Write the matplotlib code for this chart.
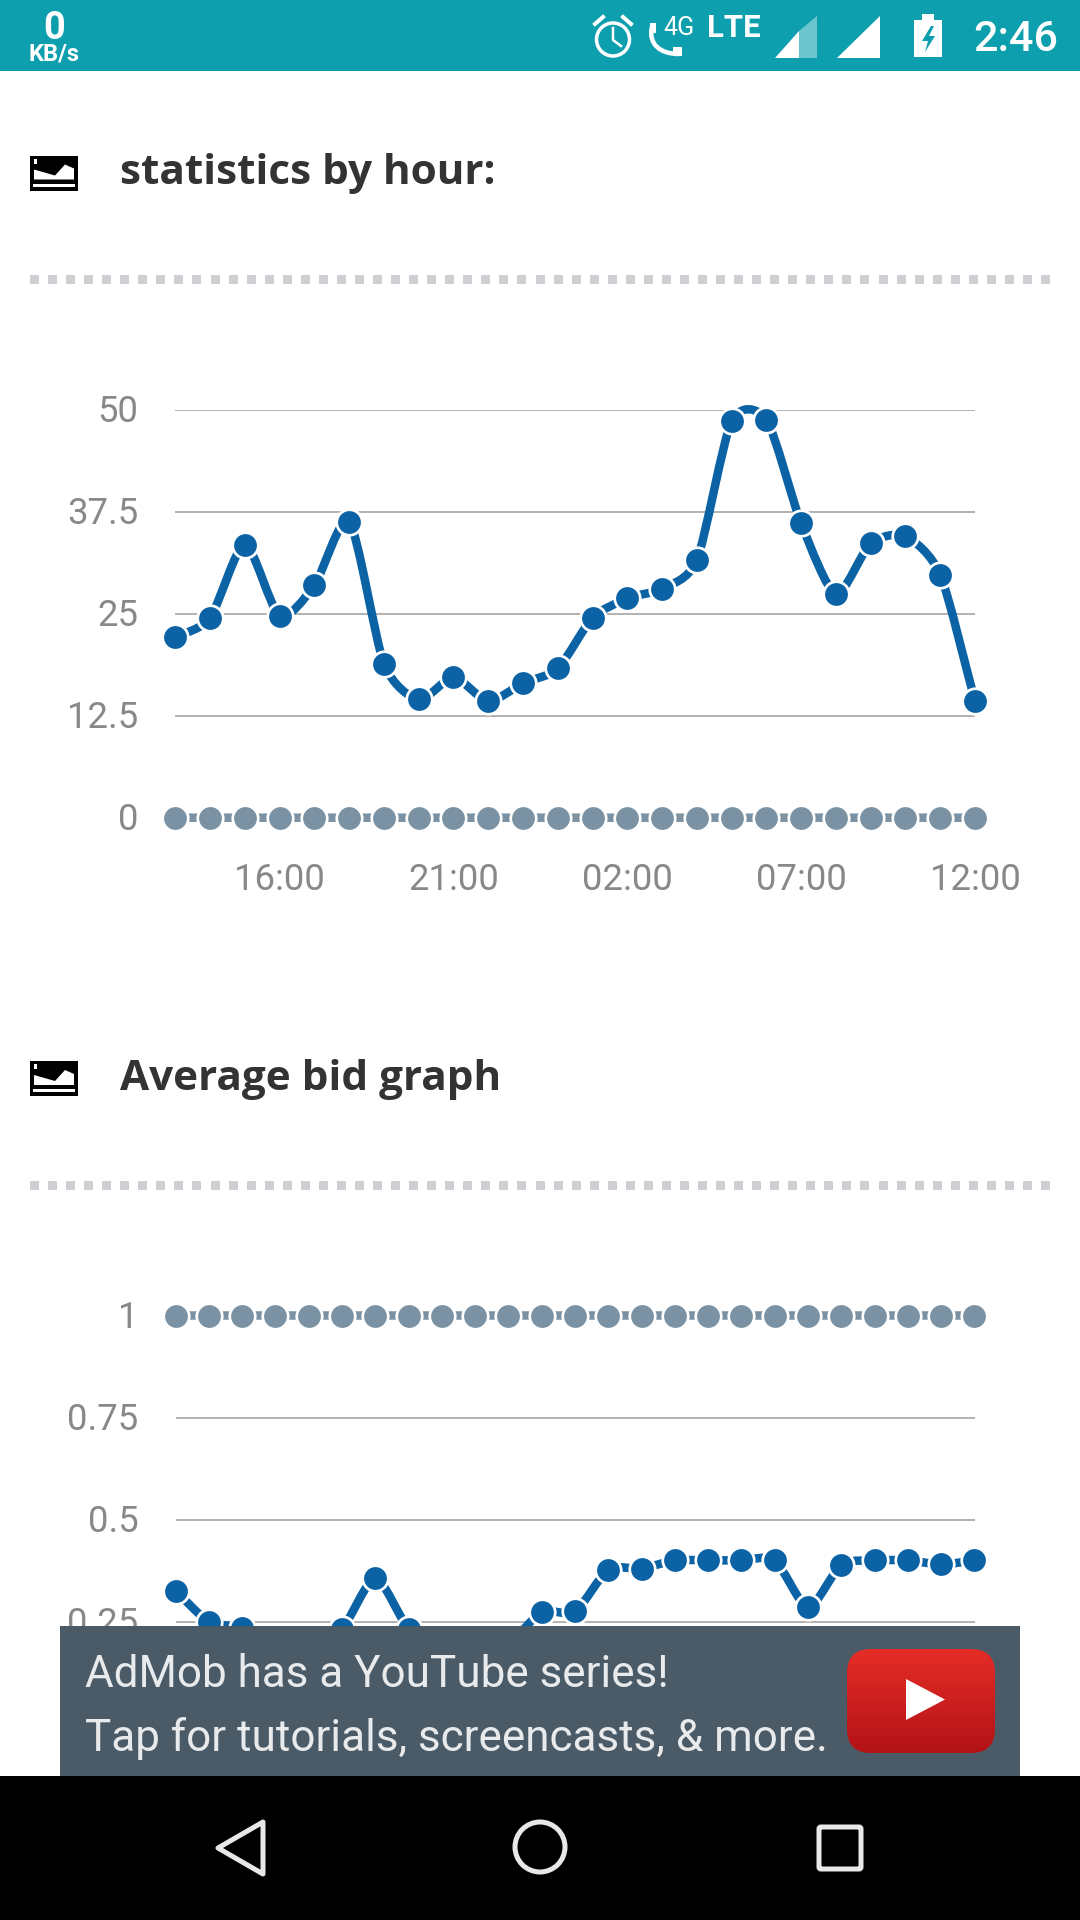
import numpy as np
import matplotlib
matplotlib.use("Agg")
import matplotlib.pyplot as plt
from matplotlib.path import Path
from matplotlib.patches import PathPatch, Rectangle, Circle, Polygon, FancyBboxPatch
from matplotlib.transforms import ScaledTranslation

hours = ["13:00","14:00","15:00","16:00","17:00","18:00","19:00","20:00","21:00","22:00","23:00","00:00",
         "01:00","02:00","03:00","04:00","05:00","06:00","07:00","08:00","09:00","10:00","11:00","12:00"]
shown_hours = ["16:00","21:00","02:00","07:00","12:00"]
stats_blue = [22.1,24.5,33.5,24.75,28.5,36.3,18.9,14.5,17.2,14.3,16.5,18.3,
              24.5,26.9,28.1,31.6,48.6,48.8,36.1,27.45,33.65,34.5,29.8,14.3]
stats_grey = [0]*24
stats_ticks = [0,12.5,25,37.5,50]
stats_ticklabels = ["0","12.5","25","37.5","50"]

bid_blue = [.325,.25,.235,.2,.19,.232,.356,.232,.18,.17,.195,.273,.275,.377,.38,.40,.40,.40,.40,.285,.389,.40,.40,.39,.40]
bid_grey = [1]*25
bid_ticks = [.25,.5,.75,1]
bid_ticklabels = ["0.25","0.5","0.75","1"]

BLUE, GREY = "#0B62A4", "#7A92A3"
W, H = 1080, 1920
PX = 0.72
fig = plt.figure(figsize=(10.8,19.2), dpi=100, facecolor="white")

def chart_axes(x0, x1, ytop, ybot):
    ax = fig.add_axes([x0/W, 1-ybot/H, (x1-x0)/W, (ybot-ytop)/H], facecolor="none", zorder=1)
    for s in ax.spines.values():
        s.set_visible(False)
    return ax

def smooth(ax, xs, ys, color):
    xs, ys = np.asarray(xs, float), np.asarray(ys, float)
    n = len(xs)
    g = np.zeros(n)
    g[1:-1] = (ys[2:]-ys[:-2])/(xs[2:]-xs[:-2])
    g[0] = (ys[1]-ys[0])/(xs[1]-xs[0])
    g[-1] = (ys[-1]-ys[-2])/(xs[-1]-xs[-2])
    verts, codes = [(xs[0], ys[0])], [Path.MOVETO]
    for i in range(1, n):
        d = (xs[i]-xs[i-1])/4
        verts += [(xs[i-1]+d, ys[i-1]+d*g[i-1]), (xs[i]-d, ys[i]-d*g[i]), (xs[i], ys[i])]
        codes += [Path.CURVE4]*3
    ax.add_patch(PathPatch(Path(verts, codes), fill=False, ec=color, lw=8.5*PX, clip_on=False, zorder=3, capstyle="butt"))
    ax.plot(xs, ys, ls="none", marker="o", ms=25.5*PX, mfc=color, mec="white", mew=2.7*PX, clip_on=False, zorder=4)

def draw_chart(ax, xs, blue, grey, ticks, ticklabels, xlim, ylim):
    ax.set_xlim(*xlim); ax.set_ylim(*ylim)
    ax.set_yticks(ticks, ticklabels, family="Roboto", fontsize=36.5*PX, color="#888888")
    ax.yaxis.grid(True, color="#b4b4b4", lw=2*PX)
    ax.set_axisbelow(True)
    ax.tick_params(axis="y", length=0, pad=37*PX)
    shift = ScaledTranslation(0, 2/100, fig.dpi_scale_trans)
    for lab in ax.get_yticklabels():
        lab.set_transform(lab.get_transform() + shift)
    smooth(ax, xs, grey, GREY)
    smooth(ax, xs, blue, BLUE)

ax1 = chart_axes(175.3, 975, 410, 817.7)
x1 = np.arange(len(hours))
draw_chart(ax1, x1, stats_blue, stats_grey, stats_ticks, stats_ticklabels, (0,23), (0,50))
ax1.set_xticks([hours.index(h) for h in shown_hours], shown_hours, family="Roboto", fontsize=36.5*PX, color="#888888")
ax1.tick_params(axis="x", length=0, pad=44*PX)

ax2 = chart_axes(175.6, 974.5, 1315.5, 1723.6)
x2 = np.arange(len(bid_blue))
draw_chart(ax2, x2, bid_blue, bid_grey, bid_ticks, bid_ticklabels, (0,24), (0,1))
ax2.set_xticks([])

# page furniture, in pixel coordinates
ov = fig.add_axes([0,0,1,1], facecolor="none", zorder=5)
ov.set_xlim(0,W); ov.set_ylim(H,0); ov.axis("off")

TEAL = "#0E9FAE"
ov.add_patch(Rectangle((0,0),W,71,fc=TEAL,ec="none"))
ov.text(53.7,39,"0",family="Roboto",weight="bold",fontsize=38*PX,color="white",ha="center",va="baseline")
ov.text(53.7,61,"KB/s",family="Roboto",weight="bold",fontsize=23.5*PX,color="white",ha="center",va="baseline")
# alarm
ov.add_patch(Circle((613,39.5),16.5,fc="none",ec="white",lw=3.5*PX))
ov.plot([613,613,621],[28,40,46],color="white",lw=2.5*PX)
ov.plot([595,603],[24,17],color="white",lw=4*PX)
ov.plot([631,623],[24,17],color="white",lw=4*PX)
# phone
ov.add_patch(PathPatch(Path([(652,27),(648,44),(660,54),(679,54)],[Path.MOVETO,Path.CURVE4,Path.CURVE4,Path.CURVE4]),fill=False,ec="white",lw=4.5*PX))
ov.add_patch(Rectangle((650,23),6,10,fc="white",ec="none"))
ov.add_patch(Rectangle((673,47),9,9,fc="white",ec="none"))
ov.text(663,35,"4G",family="Roboto",fontsize=25*PX,color="white",va="baseline")
ov.text(707,37,"LTE",family="Roboto",weight="bold",fontsize=31*PX,color="white",va="baseline")
# signal
ov.add_patch(Polygon([(775,58),(799,31),(799,58)],fc="white",ec="none"))
ov.add_patch(Polygon([(799,58),(799,31),(817,16),(817,58)],fc="#6CC4CE",ec="none"))
ov.add_patch(Polygon([(837,58),(880,16),(880,58)],fc="white",ec="none"))
# battery
ov.add_patch(Rectangle((914,20),28,37,fc="white",ec="none"))
ov.add_patch(Rectangle((922,14),12,7,fc="white",ec="none"))
ov.add_patch(Polygon([(931,26),(922,41),(928,41),(925,52),(935,36),(929,36),(934,26)],fc=TEAL,ec="none"))
ov.text(973,51,"2:46",family="Roboto",weight="medium",fontsize=43*PX,color="white",va="baseline")

def heading(y_top, y_base, y_dots, txt):
    ov.add_patch(Rectangle((30,y_top),48,35,fc="black",ec="none"))
    ov.add_patch(Polygon([(34,y_top+14),(55,y_top+20),(65,y_top+9),(74,y_top+13),(74,y_top+24),(34,y_top+24)],fc="white",ec="none"))
    ov.add_patch(Rectangle((33,y_top+28),42,3,fc="white",ec="none"))
    ov.add_patch(Rectangle((34,y_top+3),3,5,fc="white",ec="none"))
    ov.text(120.5,y_base,txt,family="Open Sans",weight="bold",fontsize=42.2*PX,color="#333333",va="baseline")
    for x in np.linspace(30,1041,57):
        ov.add_patch(Rectangle((x,y_dots-4.5),9,9,fc="#CFCFD3",ec="none"))

heading(155.5,184,279.5,"statistics by hour:")
heading(1061,1090,1185.5,"Average bid graph")

# ad banner
ov.add_patch(Rectangle((60,1626),960,150,fc="#4A5B67",ec="none"))
ad = dict(family="Roboto",fontsize=44*PX,color="#E8EAEC",va="baseline")
ov.text(85,1687,"AdMob has a YouTube series!",**ad)
ov.text(85,1751,"Tap for tutorials, screencasts, & more.",**ad)
btn = FancyBboxPatch((871,1673),100,56,boxstyle="round,pad=24,rounding_size=24",fc="none",ec="none")
ov.add_patch(btn)
grad = np.linspace(0,1,64)[:,None,None]*np.array([[[0xB3-0xE5,0x12-0x2D,0x17-0x27]]])/255+np.array([[[0xE5,0x2D,0x27]]])/255
im = ov.imshow(grad,extent=(847,995,1753,1649),aspect="auto",zorder=3)
im.set_clip_path(btn)
ov.set_xlim(0,W); ov.set_ylim(H,0)
ov.add_patch(Polygon([(906,1679),(945,1699.5),(906,1720)],fc="white",ec="none",zorder=4))

# nav bar
ov.add_patch(Rectangle((0,1776),W,144,fc="black",ec="none"))
NAV = "#E8E8E8"
ov.add_patch(Polygon([(263,1822),(218,1848),(263,1874)],fc="none",ec=NAV,lw=5*PX,joinstyle="round"))
ov.add_patch(Circle((540,1847),25,fc="none",ec=NAV,lw=5*PX))
ov.add_patch(FancyBboxPatch((819,1827),42,42,boxstyle="round,pad=0,rounding_size=2",fc="none",ec=NAV,lw=5*PX))

fig.savefig("out.png",dpi=100)
